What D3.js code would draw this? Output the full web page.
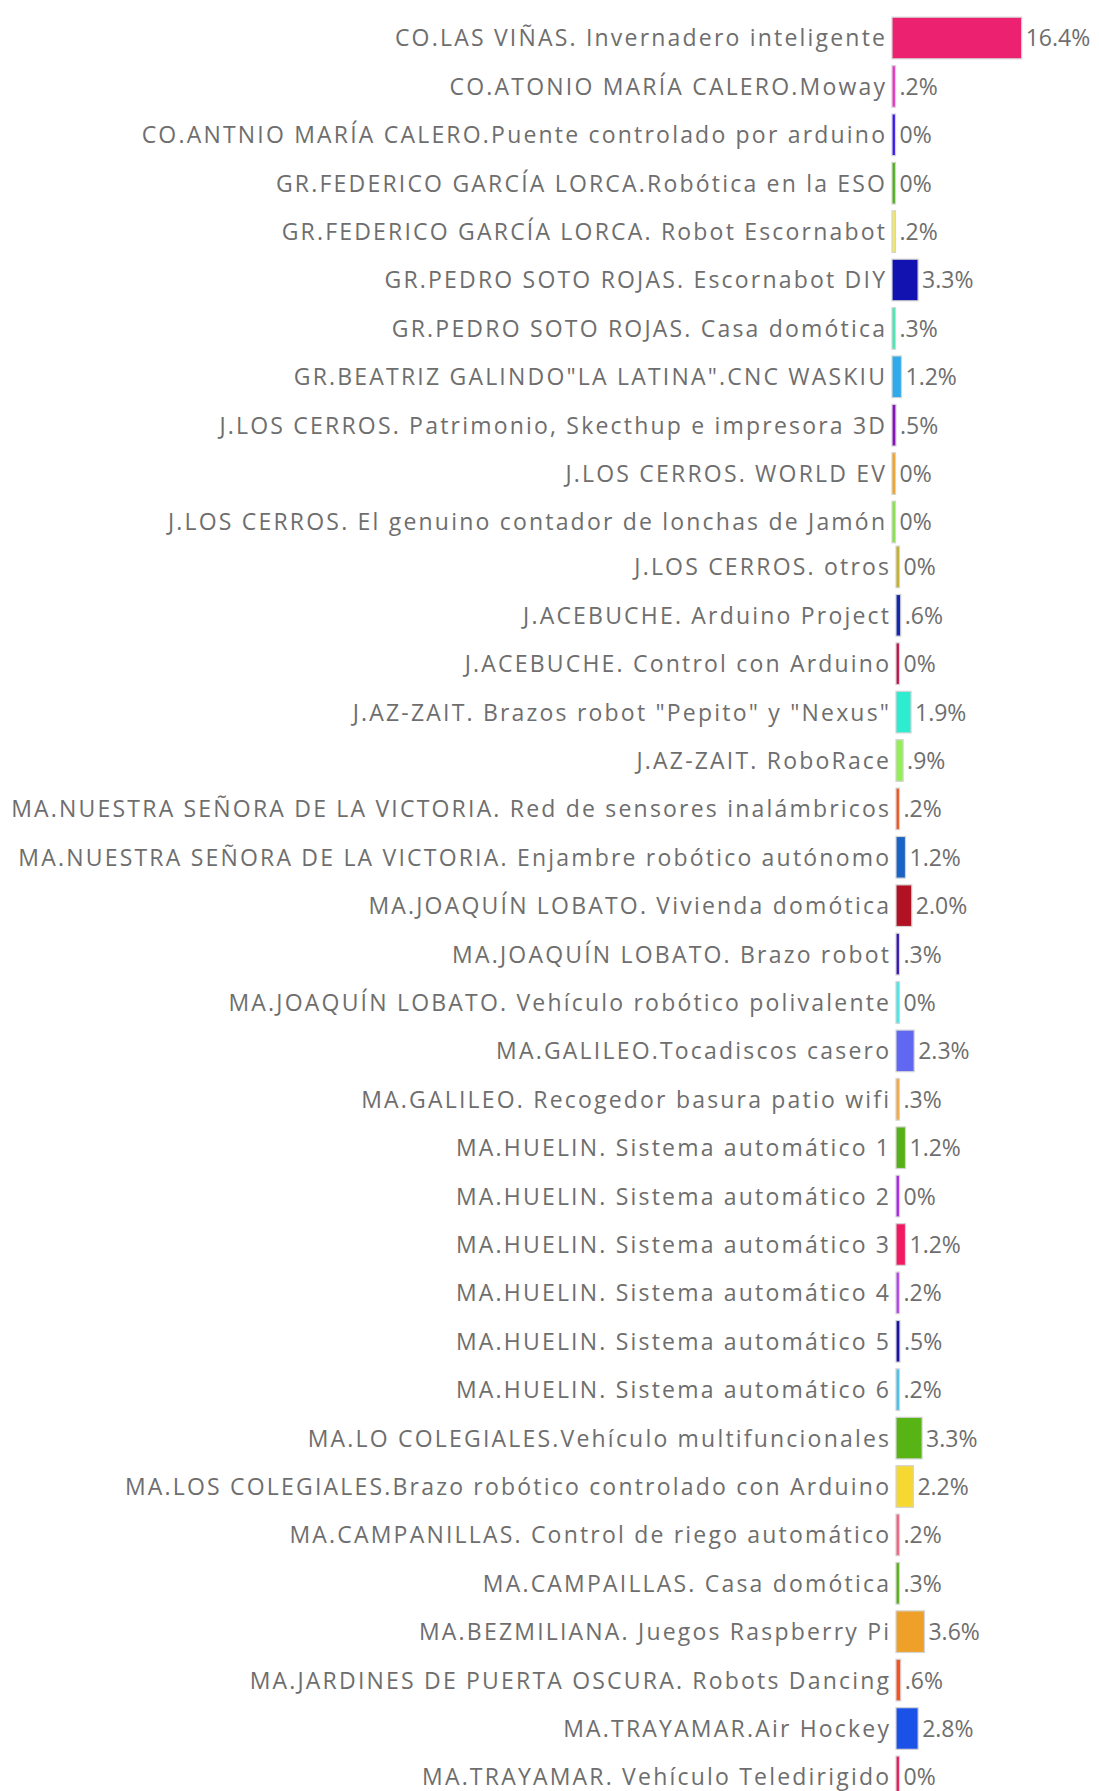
<!DOCTYPE html>
<html>
<head>
<meta charset="utf-8">
<script src="https://cdn.jsdelivr.net/npm/d3@7"></script>
<style>
  html, body { margin: 0; padding: 0; background: #fff; }
  svg { display: block; }
</style>
</head>
<body>
<svg id="chart"></svg>
<script>
(function(){

	// Data
	var projects = [
		"CO.LAS VIÑAS. Invernadero inteligente",
		"CO.ATONIO MARÍA CALERO.Moway",
		"CO.ANTNIO MARÍA CALERO.Puente controlado por arduino",
		"GR.FEDERICO GARCÍA LORCA.Robótica en la ESO",
		"GR.FEDERICO GARCÍA LORCA. Robot Escornabot",
		"GR.PEDRO SOTO ROJAS. Escornabot DIY",
		"GR.PEDRO SOTO ROJAS. Casa domótica",
		"GR.BEATRIZ GALINDO\"LA LATINA\".CNC WASKIU",
		"J.LOS CERROS. Patrimonio, Skecthup e impresora 3D",
		"J.LOS CERROS. WORLD EV",
		"J.LOS CERROS. El genuino contador de lonchas de Jamón",
		"J.LOS CERROS. otros",
		"J.ACEBUCHE. Arduino Project",
		"J.ACEBUCHE. Control con Arduino",
		"J.AZ-ZAIT. Brazos robot \"Pepito\" y \"Nexus\"",
		"J.AZ-ZAIT. RoboRace",
		"MA.NUESTRA SEÑORA DE LA VICTORIA. Red de sensores inalámbricos",
		"MA.NUESTRA SEÑORA DE LA VICTORIA. Enjambre robótico autónomo",
		"MA.JOAQUÍN LOBATO. Vivienda domótica",
		"MA.JOAQUÍN LOBATO. Brazo robot",
		"MA.JOAQUÍN LOBATO. Vehículo robótico polivalente",
		"MA.GALILEO.Tocadiscos casero",
		"MA.GALILEO. Recogedor basura patio wifi",
		"MA.HUELIN. Sistema automático 1",
		"MA.HUELIN. Sistema automático 2",
		"MA.HUELIN. Sistema automático 3",
		"MA.HUELIN. Sistema automático 4",
		"MA.HUELIN. Sistema automático 5",
		"MA.HUELIN. Sistema automático 6",
		"MA.LO COLEGIALES.Vehículo multifuncionales",
		"MA.LOS COLEGIALES.Brazo robótico controlado con Arduino",
		"MA.CAMPANILLAS. Control de riego automático",
		"MA.CAMPAILLAS. Casa domótica",
		"MA.BEZMILIANA. Juegos Raspberry Pi",
		"MA.JARDINES DE PUERTA OSCURA. Robots Dancing",
		"MA.TRAYAMAR.Air Hockey",
		"MA.TRAYAMAR. Vehículo Teledirigido"
	];
	var shares = [16.4, 0.2, 0, 0, 0.2, 3.3, 0.3, 1.2, 0.5, 0, 0, 0, 0.6, 0, 1.9, 0.9,
		0.2, 1.2, 2.0, 0.3, 0, 2.3, 0.3, 1.2, 0, 1.2, 0.2, 0.5, 0.2, 3.3, 2.2, 0.2, 0.3, 3.6, 0.6, 2.8, 0];
	var barColors = ["#ec2270", "#e836c4", "#3a18f0", "#52b020", "#f0e860", "#1212b0",
		"#44e8b4", "#30aaea", "#8414b8", "#f0a424", "#84e442", "#c4b020",
		"#1228b0", "#c0124a", "#2eecd0", "#92f052", "#f25420", "#1a62c4",
		"#b01224", "#3412b4", "#40eaea", "#6068f2", "#f8a840", "#58b018",
		"#aa22f0", "#f21862", "#b444f0", "#1a12a8", "#48c2f0", "#58b414",
		"#f6d832", "#f26482", "#58b018", "#eea028", "#f85222", "#1a52e8", "#e81a5c"];

	//Layout Configurations
	var svgWidth = 1099;
	var svgHeight = 1791;
	var barLeft = 892;
	var rowStep = 48.4;
	var firstRow = 38;
	var splitAt = 11;		//lower part of the picture sits a little lower-right
	var splitDx = 4, splitDy = -3.5;
	var minBar = 3.5;
	var textColor = "#6e6e6e";
	var fontSize = 23;
	var labelSpacing = 2.2;

	var rows = projects.map(function(p, i){
		return {name: p, value: shares[i], color: barColors[i], i: i};
	});

	var svg = d3.select("#chart")
	.attr("width", svgWidth)
	.attr("height", svgHeight);

	var y = d3.scaleBand()
	.domain(d3.range(rows.length))
	.range([firstRow - rowStep/2, firstRow - rowStep/2 + rowStep * rows.length])
	.paddingInner(0.14)
	.paddingOuter(0.07);

	var x = d3.scaleLinear()
	.domain([0, 16.4])
	.range([0, 129.7]);

	function dx(d){ return d.i >= splitAt ? splitDx : 0; }
	function dy(d){ return d.i >= splitAt ? splitDy : 0; }
	function barW(d){ return Math.max(minBar, x(d.value)); }
	function fmt(v){
		if(v === 0) return "0%";
		var s = v.toFixed(1) + "%";
		return v < 1 ? s.slice(1) : s;
	}

	var g = svg.selectAll(".row")
	.data(rows)
	.enter()
	.append("g")
	.attr("class", "row")
	.attr("transform", function(d){
		return "translate(" + (barLeft + dx(d)) + "," + (y(d.i) + dy(d)) + ")";
	});

	//bars with the light grey edge
	g.append("rect")
	.attr("x", 0)
	.attr("y", 0)
	.attr("width", barW)
	.attr("height", y.bandwidth())
	.attr("fill", function(d){ return d.color; })
	.attr("stroke", "#d4d4d4")
	.attr("stroke-width", 1.2);

	//project labels (spaced wide like the original)
	g.append("text")
	.attr("x", -7 + labelSpacing)
	.attr("y", y.bandwidth()/2 + 8.5)
	.attr("text-anchor", "end")
	.attr("font-family", "'Open Sans', sans-serif")
	.attr("font-size", fontSize)
	.attr("letter-spacing", labelSpacing)
	.attr("fill", textColor)
	.text(function(d){ return d.name; });

	//value labels
	g.append("text")
	.attr("x", function(d){ return barW(d) + 4; })
	.attr("y", y.bandwidth()/2 + 8.5)
	.attr("font-family", "'Open Sans', sans-serif")
	.attr("font-size", fontSize)
	.attr("fill", textColor)
	.text(function(d){ return fmt(d.value); });

})();
</script>
</body>
</html>
